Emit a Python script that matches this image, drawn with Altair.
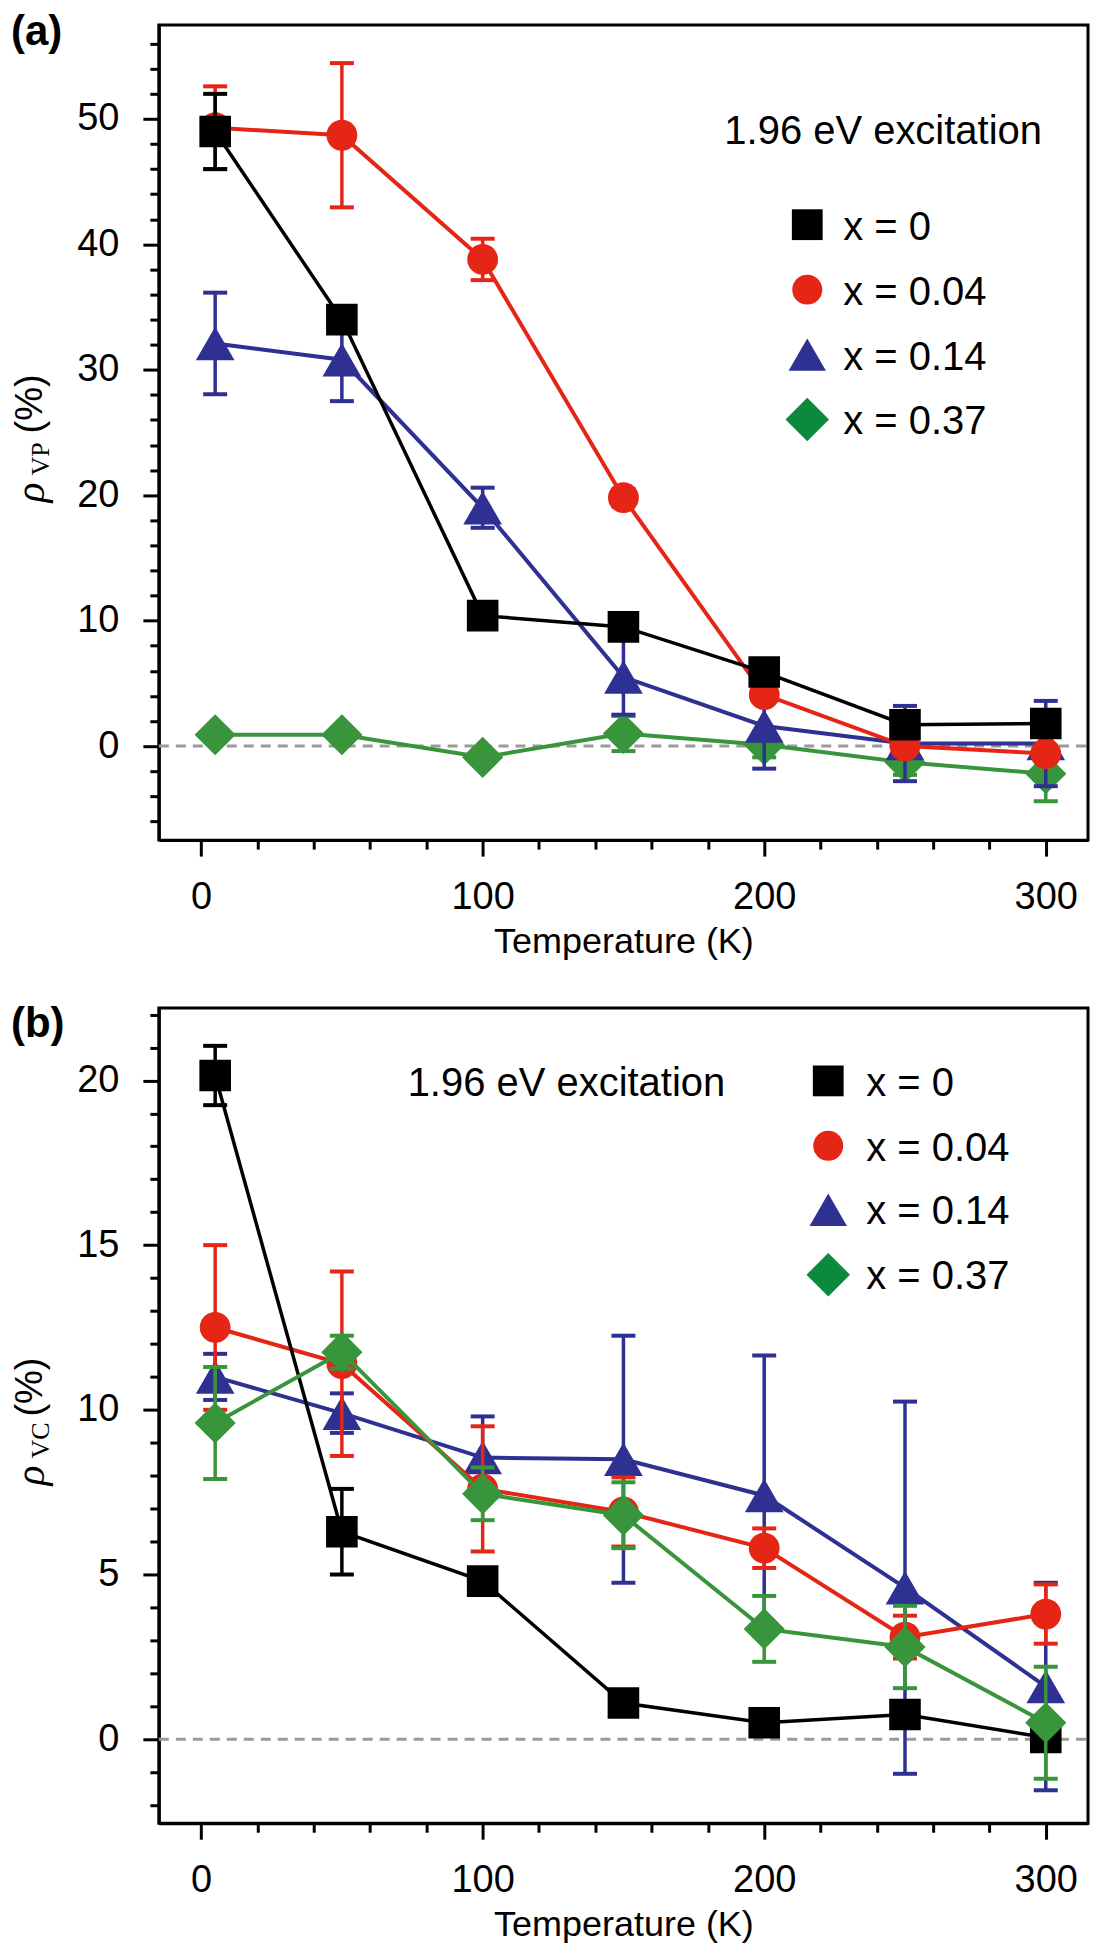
import altair as alt
import pandas as pd

# ---------------- data ----------------
T = [5, 50, 100, 150, 200, 250, 300]
labels = ["x = 0", "x = 0.04", "x = 0.14", "x = 0.37"]
colors = ["#000000", "#e52515", "#2e3192", "#38953b"]
legend_colors = ["#000000", "#e52515", "#2e3192", "#0b8a3e"]
shapes = ["square", "circle", "triangle-up", "diamond"]
annotation = "1.96 eV excitation"

# panel (a): valley polarization rho_VP (%)
vp_x000 = [49.0, 34.0, 10.4, 9.5, 5.9, 1.7, 1.8]
vp_x000_err = [3.0, 0.5, 0.5, 0.5, 0.5, 0.5, 0.5]
vp_x004 = [49.3, 48.7, 38.8, 19.8, 4.1, 0.0, -0.6]
vp_x004_err = [3.3, 5.75, 1.65, 0.7, 0.5, 0.5, 0.5]
vp_x014 = [32.1, 30.8, 19.0, 5.5, 1.6, 0.2, 0.2]
vp_x014_err = [4.05, 3.3, 1.6, 3.0, 3.4, 3.0, 3.4]
vp_x037 = [0.9, 0.9, -0.9, 1.0, 0.1, -1.3, -2.2]
vp_x037_err = [0.5, 0.5, 0.5, 1.4, 1.0, 1.0, 2.2]

# panel (b): valley coherence rho_VC (%)
vc_x000 = [20.15, 6.3, 4.8, 1.1, 0.5, 0.75, 0.05]
vc_x000_err = [0.9, 1.3, 0.3, 0.3, 0.3, 0.3, 0.3]
vc_x004 = [12.5, 11.4, 7.6, 6.9, 5.8, 3.1, 3.8]
vc_x004_err = [2.5, 2.8, 1.9, 1.05, 0.6, 0.65, 0.9]
vc_x014 = [11.0, 9.9, 8.55, 8.5, 7.4, 4.6, 1.6]
vc_x014_err = [0.7, 0.6, 1.25, 3.75, 4.25, 5.65, 3.15]
vc_x037 = [9.6, 11.75, 7.45, 6.8, 3.35, 2.8, 0.5]
vc_x037_err = [1.7, 0.5, 0.8, 1.0, 1.0, 1.25, 1.7]

x_ticks = list(range(0, 301, 20))
vp_ticks = list(range(-6, 57, 2))
vc_ticks = list(range(-2, 23, 1))

# ---------------- style ----------------
FONT = "Liberation Sans"
SERIF = "Liberation Serif"
W, H = 930, 816
XDOM = [-15, 315]
marker_sizes = [1000, 950, 1500, 1700]
legend_sizes = [950, 900, 1400, 1900]


def text_layer(txt, x, y, size=40, font=FONT, style="normal", weight="normal",
               angle=0, align="left", baseline="alphabetic"):
    d = pd.DataFrame({"t": [txt]})
    kw = dict(align=align, baseline=baseline, fontSize=size, font=font,
              fontStyle=style, fontWeight=weight, color="black")
    if angle:
        kw["angle"] = angle
    return alt.Chart(d).mark_text(**kw).encode(
        x=alt.value(x), y=alt.value(y), text="t:N")


def panel(vals, errs, order, y_dom, y_ticks, y_major, sub, tag, tag_y,
          ann_x, ann_y, leg_sym_x, leg_text_x, leg_sym_ys, leg_text_ys):
    xaxis = alt.Axis(
        values=x_ticks, title="Temperature (K)",
        labelExpr="datum.value % 100 === 0 ? datum.label : ''",
        tickSize={"condition": {"test": "datum.value % 100 === 0", "value": 16}, "value": 9},
    )
    X = alt.X("T:Q", scale=alt.Scale(domain=XDOM, nice=False, zero=False), axis=xaxis)
    yaxis = alt.Axis(
        values=y_ticks, title=None,
        labelExpr=f"datum.value % {y_major} === 0 ? datum.label : ''",
        tickSize={"condition": {"test": f"datum.value % {y_major} === 0", "value": 16}, "value": 9},
    )
    yscale = alt.Scale(domain=y_dom, nice=False, zero=False)

    def Y(field):
        return alt.Y(f"{field}:Q", scale=yscale, axis=yaxis)

    layers = []
    zero = alt.Chart(pd.DataFrame({"z": [0.0]})).mark_rule(
        color="#9a9a9a", strokeWidth=3, strokeDash=[10, 7]
    ).encode(y=Y("z"), x=alt.value(0), x2=alt.value(W))
    layers.append(zero)

    for i in order:
        v, e = vals[i], errs[i]
        df = pd.DataFrame({
            "T": T, "v": v,
            "lo": [a - b for a, b in zip(v, e)],
            "hi": [a + b for a, b in zip(v, e)],
        })
        base = alt.Chart(df)
        c = colors[i]
        layers += [
            base.mark_rule(color=c, strokeWidth=3.5).encode(x=X, y=Y("lo"), y2="hi:Q"),
            base.mark_tick(color=c, orient="horizontal", size=24, thickness=4, opacity=1).encode(x=X, y=Y("lo")),
            base.mark_tick(color=c, orient="horizontal", size=24, thickness=4, opacity=1).encode(x=X, y=Y("hi")),
            base.mark_line(color=c, strokeWidth=3.5 if i == 0 else 4).encode(x=X, y=Y("v")),
            base.mark_point(shape=shapes[i], filled=True, size=marker_sizes[i], color=c,
                            opacity=1, strokeWidth=0).encode(x=X, y=Y("v")),
        ]

    # y title: rho with subscript, then (%)
    layers.append(text_layer("ρ", -115, 478, size=42, font=SERIF, style="italic", angle=270))
    layers.append(text_layer(sub, -110, 451, size=26, font=SERIF, angle=270))
    layers.append(text_layer("(%)", -117, 409, size=38, angle=270))
    # panel tag
    layers.append(text_layer(tag, -148, tag_y, size=42, weight="bold"))
    # annotation
    layers.append(text_layer(annotation, ann_x, ann_y, size=40))
    # legend
    for i in range(4):
        d = pd.DataFrame({"label": [labels[i]]})
        layers.append(alt.Chart(d).mark_point(
            shape=shapes[i], filled=True, size=legend_sizes[i], color=legend_colors[i],
            opacity=1, strokeWidth=0).encode(x=alt.value(leg_sym_x), y=alt.value(leg_sym_ys[i])))
        layers.append(alt.Chart(d).mark_text(
            align="left", baseline="alphabetic", fontSize=40, font=FONT, color="black"
        ).encode(x=alt.value(leg_text_x), y=alt.value(leg_text_ys[i]), text="label:N"))

    return alt.layer(*layers).properties(width=W, height=H)


pa = panel([vp_x000, vp_x004, vp_x014, vp_x037],
           [vp_x000_err, vp_x004_err, vp_x014_err, vp_x037_err],
           order=[3, 2, 1, 0], y_dom=[-7.5, 57.5], y_ticks=vp_ticks, y_major=10,
           sub="VP", tag="(a)", tag_y=20,
           ann_x=566, ann_y=119, leg_sym_x=649, leg_text_x=685,
           leg_sym_ys=[200, 265, 330, 395], leg_text_ys=[215, 280, 345, 409])

pb = panel([vc_x000, vc_x004, vc_x014, vc_x037],
           [vc_x000_err, vc_x004_err, vc_x014_err, vc_x037_err],
           order=[2, 1, 0, 3], y_dom=[-2.55, 22.2], y_ticks=vc_ticks, y_major=5,
           sub="VC", tag="(b)", tag_y=29,
           ann_x=249, ann_y=88, leg_sym_x=670, leg_text_x=708,
           leg_sym_ys=[73, 138, 202, 267], leg_text_ys=[88, 153, 216, 281])

chart = alt.vconcat(pa, pb, spacing=33).properties(
    padding={"left": 0, "top": 0, "right": 0, "bottom": 0}
).configure_view(
    stroke="black", strokeWidth=3
).configure_axis(
    domainColor="black", domainWidth=3, tickColor="black", tickWidth=3,
    labelFont=FONT, labelFontSize=38, labelColor="black", labelOverlap=False,
    titleFont=FONT, titleFontSize=36, titleFontWeight="normal", titleColor="black",
    grid=False, labelFlush=False,
).configure_axisX(
    labelPadding=22, titlePadding=8
).configure_axisY(
    labelPadding=24
)

chart.save("out.html", embed_options={"renderer": "svg", "actions": False})
